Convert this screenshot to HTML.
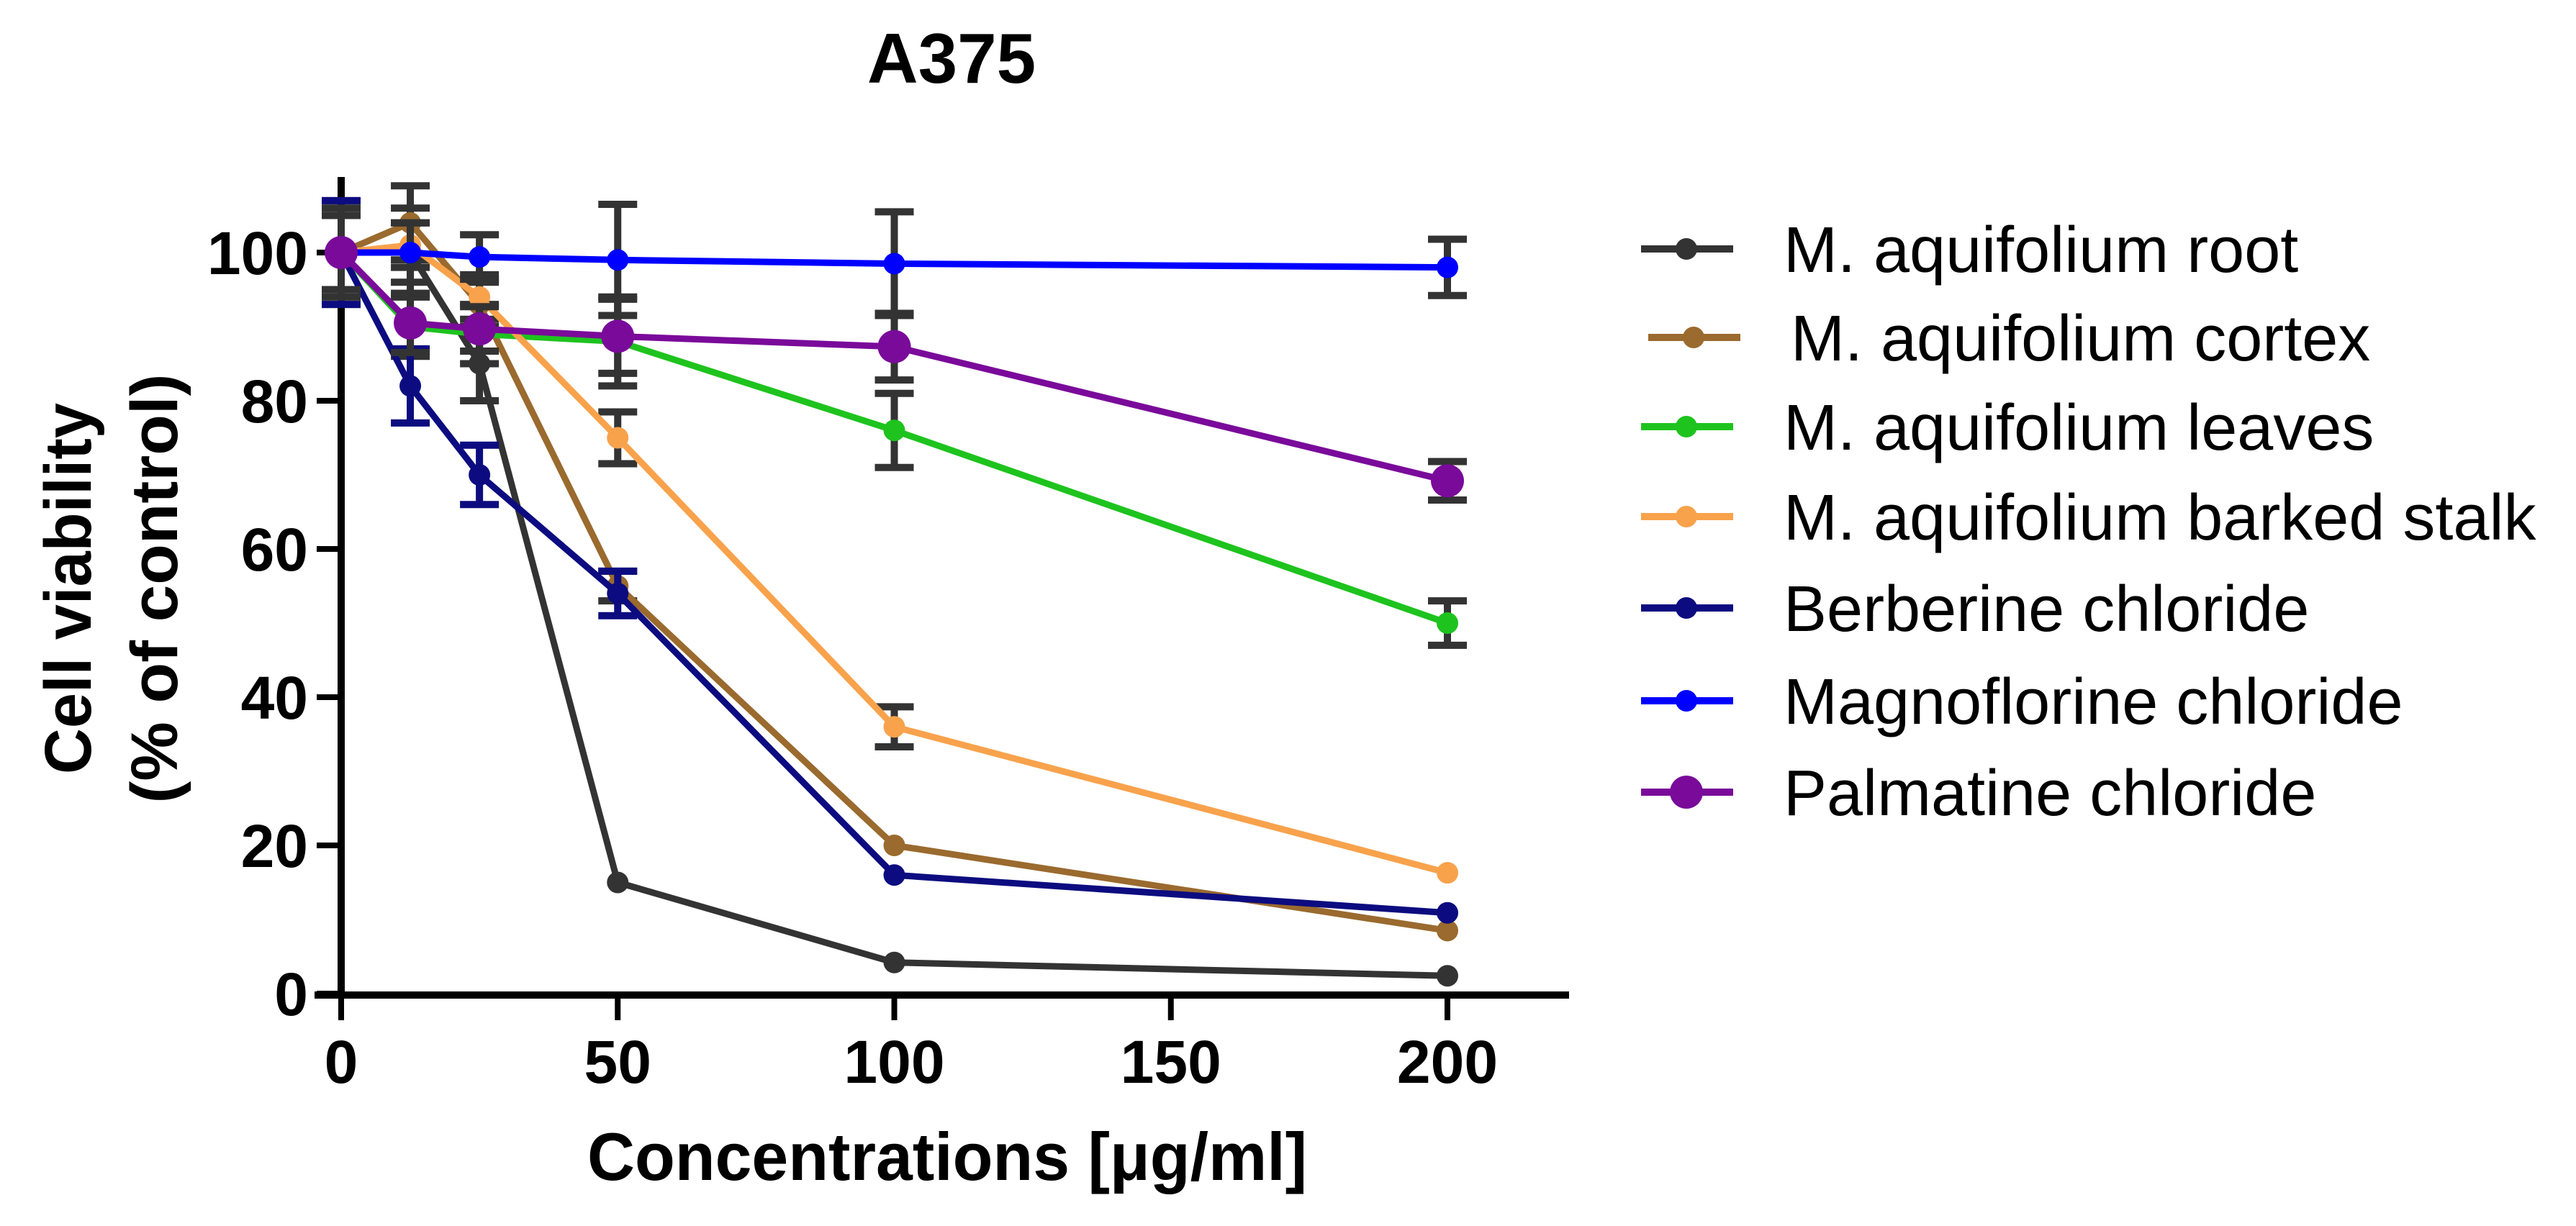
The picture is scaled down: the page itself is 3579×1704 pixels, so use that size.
<!DOCTYPE html>
<html><head><meta charset="utf-8"><style>
html,body{margin:0;padding:0;background:#fff;}
svg{display:block;}
text{font-family:"Liberation Sans",Arial,sans-serif;}
</style></head><body>
<svg id="chart" width="3579" height="1704" viewBox="0 0 3579 1704" xmlns="http://www.w3.org/2000/svg">
<rect width="3579" height="1704" fill="#fff"/>
<text x="1322" y="115" font-size="98" font-weight="bold" text-anchor="middle">A375</text>
<g id="yTitle">
<text transform="translate(126,818) rotate(-90)" font-size="92" font-weight="bold" text-anchor="middle" textLength="516" lengthAdjust="spacingAndGlyphs">Cell viability</text>
<text transform="translate(246,818) rotate(-90)" font-size="92" font-weight="bold" text-anchor="middle" textLength="597" lengthAdjust="spacingAndGlyphs">(% of control)</text>
</g>
<text x="1316" y="1640" font-size="94" font-weight="bold" text-anchor="middle" textLength="1000" lengthAdjust="spacingAndGlyphs">Concentrations [μg/ml]</text>
<g id="axes"></g>
<g id="series"></g>
<g id="legend"></g>
</svg>
<script>
const xTicks = [0, 50, 100, 150, 200];
const yTicks = [0, 20, 40, 60, 80, 100];
const concentrations = [0, 12.5, 25, 50, 100, 200];
const seriesNames = ["M. aquifolium root","M. aquifolium cortex","M. aquifolium leaves","M. aquifolium barked stalk","Berberine chloride","Magnoflorine chloride","Palmatine chloride"];
const rootVals = [100, 100, 85, 15, 4.2, 2.4];
const rootErr = [7, 6, 5, 0, 0, 0];
const cortexVals = [100, 104, 93, 55, 20, 8.5];
const cortexErr = [6, 5, 3, 2, 0, 0];
const leavesVals = [100, 90, 89, 88, 76, 50];
const leavesErr = [5, 4, 4, 6, 5, 3];
const stalkVals = [100, 101, 94, 75, 36, 16.3];
const stalkErr = [5, 3, 3, 3.5, 2.7, 0];
const berberineVals = [100, 82, 70, 54, 16, 10.9];
const berberineErr = [7, 5, 4, 3, 0, 0];
const magnoVals = [100, 100, 99.4, 99, 98.5, 98];
const magnoErr = [5, 4, 3, 7.5, 7, 3.8];
const palmVals = [100, 90.5, 89.7, 88.7, 87.3, 69.2];
const palmErr = [6, 4, 3, 5, 4.5, 2.6];

const NS = "http://www.w3.org/2000/svg";
const X0 = 474, XS = 7.685, Y0 = 1381, YS = 10.3;
function xScale(v){ return X0 + v * XS; }
function yScale(v){ return Y0 - v * YS; }
function mk(tag, attrs, parent){
  const e = document.createElementNS(NS, tag);
  for (const k in attrs) e.setAttribute(k, attrs[k]);
  parent.appendChild(e);
  return e;
}
const axes = document.getElementById('axes');
const yAxis = mk('line', {x1: X0, y1: 246, x2: X0, y2: 1388, stroke: '#000', 'stroke-width': 10}, axes);


const xAxis = mk('line', {x1: 437, y1: 1383, x2: 2180, y2: 1383, stroke: '#000', 'stroke-width': 10}, axes);


yTicks.forEach(t => {
  const l = mk('line', {x1: 440, y1: yScale(t), x2: X0, y2: yScale(t), stroke: '#000', 'stroke-width': 8}, axes);
  
  
  const tx = mk('text', {x: 428, y: yScale(t) + 30, 'font-size': 84, 'font-weight': 'bold', 'text-anchor': 'end'}, axes);
  tx.textContent = t;
  
  
});
xTicks.forEach(t => {
  const l = mk('line', {x1: xScale(t), y1: 1383, x2: xScale(t), y2: 1418, stroke: '#000', 'stroke-width': 8}, axes);
  
  
  const tx = mk('text', {x: xScale(t), y: 1505, 'font-size': 84, 'font-weight': 'bold', 'text-anchor': 'middle'}, axes);
  tx.textContent = t;
  
  
});

const series = [
  {vals: rootVals, err: rootErr, color: '#333333', ecolor: '#333333', r: 15, key: 'root'},
  {vals: cortexVals, err: cortexErr, color: '#9a6a2e', ecolor: '#333333', r: 15, key: 'cortex'},
  {vals: leavesVals, err: leavesErr, color: '#1ec31e', ecolor: '#333333', r: 15, key: 'leaves'},
  {vals: stalkVals, err: stalkErr, color: '#f8a24c', ecolor: '#333333', r: 15, key: 'barked-stalk'},
  {vals: berberineVals, err: berberineErr, color: '#0c0c80', ecolor: '#0c0c80', r: 15, key: 'berberine'},
  {vals: magnoVals, err: magnoErr, color: '#0000ff', ecolor: '#333333', r: 15, key: 'magnoflorine'},
  {vals: palmVals, err: palmErr, color: '#7a0a9a', ecolor: '#333333', r: 23, key: 'palmatine'}
];
const sg = document.getElementById('series');
series.forEach(s => {
  const g = mk('g', {}, sg);
  
  
  s.vals.forEach((v, i) => {
    const e = s.err[i];
    if (e > 0) {
      const cx = xScale(concentrations[i]);
      const eb = mk('path', {d: `M${cx},${yScale(v+e)}V${yScale(v-e)}M${cx-27},${yScale(v+e)}H${cx+27}M${cx-27},${yScale(v-e)}H${cx+27}`, stroke: s.ecolor, 'stroke-width': 10, fill: 'none'}, g);
      
      
    }
  });
  const pts = s.vals.map((v, i) => xScale(concentrations[i]) + ',' + yScale(v)).join(' ');
  const pl = mk('polyline', {points: pts, fill: 'none', stroke: s.color, 'stroke-width': 9, 'stroke-linejoin': 'round'}, g);
  
  
  s.vals.forEach((v, i) => {
    const c = mk('circle', {cx: xScale(concentrations[i]), cy: yScale(v), r: s.r, fill: s.color}, g);
    
    
  });
});

const legendY = [346, 469, 593, 718, 845, 974, 1101];
const lg = document.getElementById('legend');
series.forEach((s, i) => {
  const off = i === 1 ? 10 : 0;
  const g = mk('g', {}, lg);
  
  
  mk('line', {x1: 2280 + off, y1: legendY[i], x2: 2408 + off, y2: legendY[i], stroke: s.color, 'stroke-width': 10}, g);
  mk('circle', {cx: 2343 + off, cy: legendY[i], r: s.r, fill: s.color}, g);
  const t = mk('text', {x: 2478 + off, y: legendY[i] + 32, 'font-size': 90}, g);
  t.textContent = seriesNames[i];
});
</script>
</body></html>
